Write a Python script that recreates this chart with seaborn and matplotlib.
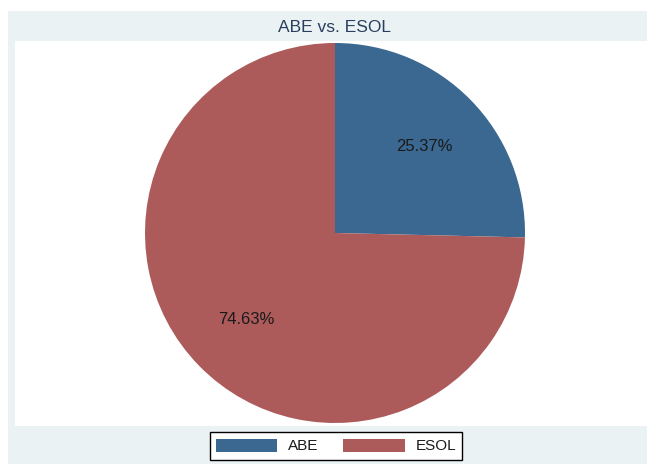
import matplotlib
matplotlib.use("Agg")
import matplotlib.pyplot as plt
from matplotlib.patches import Rectangle
import seaborn as sns

# Enrollment shares by program
programs = ["ABE", "ESOL"]
shares = [25.37, 74.63]
chart_title = "ABE vs. ESOL"

sns.set_theme(style="white")
plt.rcParams["font.family"] = ["Liberation Sans", "DejaVu Sans"]

colors = ["#3a6891", "#ad5a5b"]

W, H = 648, 466
fig = plt.figure(figsize=(W / 100, H / 100), dpi=100)
fig.patch.set_facecolor("white")


def px_rect(x0, y0, x1, y1, **kw):
    """Rectangle in pixel coords measured from the top-left corner."""
    return Rectangle((x0 / W, 1 - y1 / H), (x1 - x0) / W, (y1 - y0) / H,
                     transform=fig.transFigure, **kw)


# outer graph region and inner plot region, kept beneath the axes
fig.patches.append(px_rect(8, 11, 647, 464, facecolor="#eaf2f3", edgecolor="none", zorder=-2))
fig.patches.append(px_rect(15, 41, 647, 426, facecolor="white", edgecolor="none", zorder=-1))

# pie axes: centre (335, 233) px, radius 190 px
cx, cy, r = 335, 233, 190
ax = fig.add_axes([(cx - r) / W, (H - cy - r) / H, 2 * r / W, 2 * r / H])
ax.set_zorder(1)
ax.set_facecolor("none")
wedges, _, autotexts = ax.pie(
    shares,
    colors=colors,
    startangle=90,
    counterclock=False,
    autopct="%.2f%%",
    pctdistance=0.655,
    wedgeprops=dict(linewidth=0),
    textprops=dict(fontsize=12, color="#1a1a1a"),
)
ax.set_xlim(-1, 1)
ax.set_ylim(-1, 1)
ax.set_aspect("auto")
ax.axis("off")

fig.text(cx / W, 1 - 28 / H, chart_title, ha="center", va="center",
         fontsize=12.5, color="#2a3f5f")

leg = fig.legend(
    wedges, programs,
    loc="center", bbox_to_anchor=(336 / W, 1 - 446 / H),
    ncol=2, fontsize=11, frameon=True, fancybox=False,
    handlelength=4.0, handleheight=0.95, handletextpad=0.7,
    columnspacing=1.65, borderpad=0.4, borderaxespad=0,
)
frame = leg.get_frame()
frame.set_edgecolor("black")
frame.set_linewidth(1.0)
frame.set_facecolor("white")
frame.set_alpha(1)
for t in leg.get_texts():
    t.set_color("#1a1a1a")

fig.savefig("out.png", dpi=100)
